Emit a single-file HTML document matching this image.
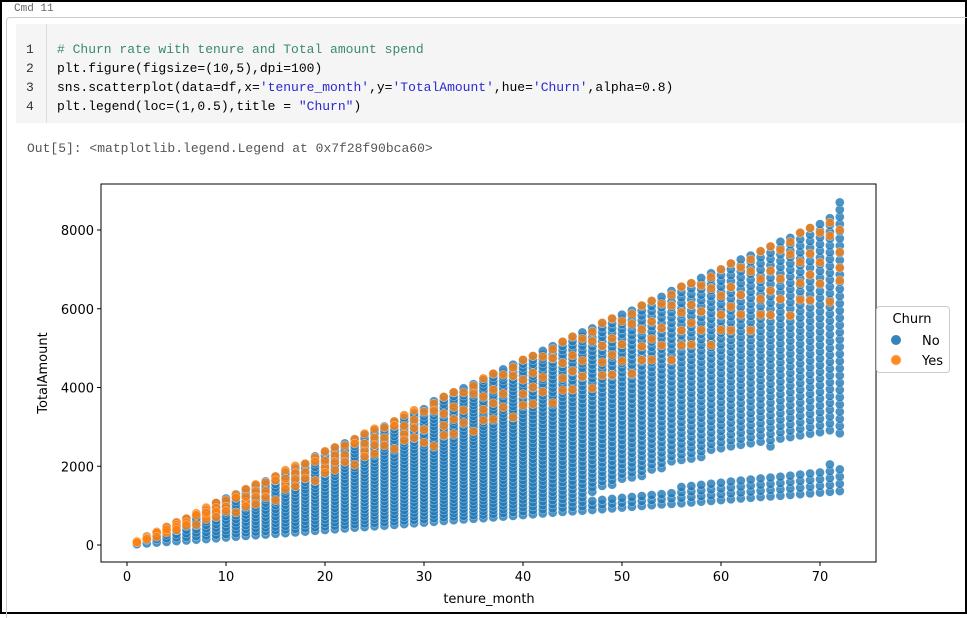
<!DOCTYPE html>
<html><head><meta charset="utf-8"><style>
body{margin:0;width:967px;height:614px;overflow:hidden;background:#fff;font-family:"Liberation Sans",sans-serif;}
#frame{position:absolute;left:0;top:0;width:963px;height:610px;border:2px solid #000;}
.mono{font-family:"Liberation Mono",monospace;}
#cmd{position:absolute;left:14px;top:3px;font-size:11px;color:#666;}
#cell{position:absolute;left:6px;top:17px;width:960px;height:600px;border-left:1px solid #ccc;border-top:1px solid #ccc;border-top-left-radius:4px;}
#code{position:absolute;left:16px;top:24px;width:949px;height:99px;background:#f5f5f5;}
#gut{position:absolute;left:46px;top:24px;width:1px;height:99px;background:#ddd;}
.ln{position:absolute;left:26px;font-size:13px;color:#333;}
.cl{position:absolute;left:57px;font-size:13px;color:#000;white-space:pre;}
.cm{color:#3a8a6a}.st{color:#2a2ad0}
#out{position:absolute;left:27px;top:141px;font-size:13px;color:#555;white-space:pre;}
svg{position:absolute;left:0;top:0;}
</style></head><body>
<div id="frame"></div>
<div id="cmd" class="mono">Cmd 11</div>
<div id="cell"></div>
<div id="code"></div>
<div id="gut"></div>
<div class="ln mono" style="top:42px">1</div>
<div class="ln mono" style="top:61px">2</div>
<div class="ln mono" style="top:80px">3</div>
<div class="ln mono" style="top:99px">4</div>
<div class="cl mono" style="top:42px"><span class="cm"># Churn rate with tenure and Total amount spend</span></div>
<div class="cl mono" style="top:61px">plt.figure(figsize=(10,5),dpi=100)</div>
<div class="cl mono" style="top:80px">sns.scatterplot(data=df,x=<span class="st">'tenure_month'</span>,y=<span class="st">'TotalAmount'</span>,hue=<span class="st">'Churn'</span>,alpha=0.8)</div>
<div class="cl mono" style="top:99px">plt.legend(loc=(1,0.5),title = <span class="st">"Churn"</span>)</div>
<div id="out" class="mono">Out[5]: &lt;matplotlib.legend.Legend at 0x7f28f90bca60&gt;</div>
<svg id="chart" width="967" height="614"></svg>
<script>
const months=[];for(let i=1;i<=72;i++)months.push(i);
const upperMax=[100,220,340,460,580,700,820,950,1070,1180,1300,1420,1540,1650,1780,1900,2010,2130,2250,2380,2480,2600,2720,2830,2950,3060,3180,3300,3420,3520,3650,3760,3880,4000,4100,4230,4350,4460,4580,4700,4800,4930,5050,5160,5290,5400,5500,5640,5750,5850,5950,6080,6200,6300,6450,6560,6650,6780,6900,7000,7150,7250,7350,7460,7580,7700,7800,7930,8050,8150,8300,8700];
const lowerMin=[20,40,60,80,100,115,135,150,170,190,210,230,250,265,285,300,320,340,360,380,400,420,440,455,475,490,510,530,550,570,590,610,630,650,665,680,700,720,740,760,780,800,820,840,855,870,890,910,930,950,970,990,1010,1030,1045,1060,1080,1100,1120,1140,1160,1180,1200,1220,1235,1250,1270,1290,1310,1330,1350,1370];
const gapLo=[0,0,0,0,0,0,0,0,0,0,0,0,0,0,0,0,0,0,0,0,0,0,0,0,0,0,0,0,0,0,0,0,0,0,0,0,0,0,0,0,0,0,0,0,0,0,1150,1200,1250,1300,1320,1350,1380,1400,1450,1480,1500,1550,1600,1650,1700,1720,1750,1780,1800,1850,1880,1900,1950,2000,2050,2050];
const gapHi=[0,0,0,0,0,0,0,0,0,0,0,0,0,0,0,0,0,0,0,0,0,0,0,0,0,0,0,0,0,0,0,0,0,0,0,0,0,0,0,0,0,0,0,0,0,0,1300,1400,1500,1600,1650,1700,1800,1900,2000,2050,2100,2200,2300,2400,2450,2500,2550,2600,2500,2600,2650,2700,2700,2750,2800,2800];
const orangeLo=[60,120,200,280,350,420,500,580,650,720,800,870,950,1020,1100,1300,1400,1500,1600,1700,1800,1900,2000,2100,2200,2300,2400,2500,2600,2700,2900,3000,3100,3200,3300,3400,3500,3600,3700,3800,3900,4000,4100,4200,4300,4400,4500,4600,4700,4800,4900,5000,5100,5200,5300,5400,5500,5600,5700,5800,5900,6000,6100,6200,6300,6400,6500,6600,6700,6800,6900,7000];
const orangeHi=[100,220,340,460,580,700,820,950,1070,1180,1300,1420,1540,1650,1780,1900,2010,2130,2250,2380,2480,2600,2720,2830,2950,3060,3180,3300,3420,3520,3650,3760,3880,4000,4100,4230,4350,4460,4580,4700,4800,4930,5050,5160,5290,5400,5500,5640,5750,5850,5950,6080,6200,6300,6450,6560,6650,6780,6900,7000,7150,7250,7350,7460,7580,7700,7800,7930,8050,8150,8300,8000];
const xTicks=[0,10,20,30,40,50,60,70];
const yTicks=[0,2000,4000,6000,8000];

const L=101,R=876,T=184,B=562;
const sx=v=>127+v*9.9;
const sy=v=>545-v*0.039375;
const svg=document.getElementById('chart');
const NS='http://www.w3.org/2000/svg';
function mk(t,a){const e=document.createElementNS(NS,t);for(const k in a)e.setAttribute(k,a[k]);svg.appendChild(e);return e;}
const g=mk('g',{});


function dot(x,y,c,name){const e=document.createElementNS(NS,'circle');e.setAttribute('cx',sx(x).toFixed(1));e.setAttribute('cy',sy(y).toFixed(1));e.setAttribute('r',4.5);e.setAttribute('fill',c);e.setAttribute('fill-opacity',0.8);e.setAttribute('stroke','#fff');e.setAttribute('stroke-width',0.5);e.setAttribute('stroke-opacity',0.6);


g.appendChild(e);}
months.forEach((m,i)=>{
  const lo=lowerMin[i],hi=upperMax[i];
  const step=Math.max(90,(hi-lo)/40);
  for(let v=lo;v<=hi;v+=step){
    if(gapHi[i]>0&&v>gapLo[i]&&v<gapHi[i])continue;
    dot(m,v,'#1f77b4','point-no');
  }
});
const fr=[[0,0.3,0.55,0.85],[0.1,0.45,0.7],[0.05,0.2,0.95],[0,0.6,0.8,0.35]];
months.forEach((m,i)=>{
  const lo=orangeLo[i],hi=orangeHi[i];
  fr[i%4].forEach(f=>{
    const span=m<30?(hi-lo):(hi-lo)*1.6;
    dot(m,hi-span*f,'#ff7f0e','point-yes');
  });
});
const frame=mk('rect',{x:L,y:T,width:R-L,height:B-T,fill:'none',stroke:'#000','stroke-width':1});


xTicks.forEach(t=>{
  const l=mk('line',{x1:sx(t),x2:sx(t),y1:B,y2:B+4,stroke:'#000'});
  
  
  const tx=mk('text',{x:sx(t),y:B+19,'text-anchor':'middle','font-size':13,'font-family':'DejaVu Sans, sans-serif'});
  tx.textContent=t;
  
  
});
yTicks.forEach(t=>{
  const l=mk('line',{x1:L-4,x2:L,y1:sy(t),y2:sy(t),stroke:'#000'});
  
  
  const tx=mk('text',{x:L-7,y:sy(t)+5,'text-anchor':'end','font-size':13,'font-family':'DejaVu Sans, sans-serif'});
  tx.textContent=t;
  
  
});
const xt=mk('text',{x:489,y:603,'text-anchor':'middle','font-size':13,'font-family':'DejaVu Sans, sans-serif'});
xt.textContent='tenure_month';


const yt=mk('text',{x:47,y:373,'text-anchor':'middle','font-size':13,'font-family':'DejaVu Sans, sans-serif',transform:'rotate(-90 47 373)'});
yt.textContent='TotalAmount';


const lg=mk('rect',{x:876.5,y:306.5,width:73,height:66,rx:3,fill:'#fff',stroke:'#ccc'});


const lt=mk('text',{x:912,y:323,'text-anchor':'middle','font-size':13,'font-family':'DejaVu Sans, sans-serif'});
lt.textContent='Churn';


[['No','#1f77b4',340],['Yes','#ff7f0e',360]].forEach(([n,c,y])=>{
  const cc=mk('circle',{cx:896,cy:y,r:5,fill:c,'fill-opacity':0.9});
  
  
  const t=mk('text',{x:922,y:y+5,'font-size':13,'font-family':'DejaVu Sans, sans-serif'});
  t.textContent=n;
  
  
});
</script>
</body></html>
